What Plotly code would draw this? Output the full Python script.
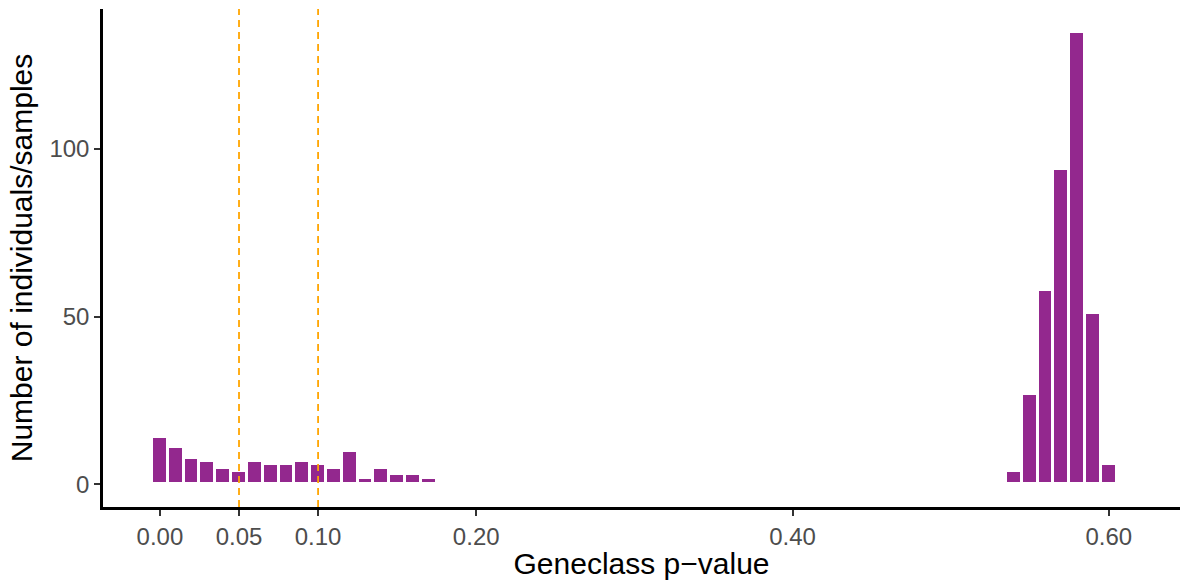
import plotly.graph_objects as go

# Histogram counts per 0.01-wide bin (bin centres listed below)
low_centres = [0.00, 0.01, 0.02, 0.03, 0.04, 0.05, 0.06, 0.07, 0.08,
               0.09, 0.10, 0.11, 0.12, 0.13, 0.14, 0.15, 0.16, 0.17]
low_counts = [14, 11, 8, 7, 5, 4, 7, 6, 6, 7, 6, 5, 10, 2, 5, 3, 3, 2]

high_centres = [0.54, 0.55, 0.56, 0.57, 0.58, 0.59, 0.60]
high_counts = [4, 27, 58, 94, 135, 51, 6]

bin_width = 0.01
thresholds = [0.05, 0.10]

x_ticks = [0.00, 0.05, 0.10, 0.20, 0.40, 0.60]
x_tick_labels = ["0.00", "0.05", "0.10", "0.20", "0.40", "0.60"]
y_ticks = [0, 50, 100]

centres = low_centres + high_centres
counts = low_counts + high_counts

fig = go.Figure()
fig.add_trace(go.Bar(
    x=centres,
    y=counts,
    width=bin_width,
    marker=dict(color="#93288E", line=dict(color="white", width=3)),
    showlegend=False,
))

for t in thresholds:
    fig.add_shape(
        type="line", xref="x", yref="paper",
        x0=t, x1=t, y0=0, y1=1,
        line=dict(color="#FFA500", width=1.8, dash="7px,5px"),
        layer="above",
    )

y_max = max(counts)
pad = 0.05 * y_max

fig.update_layout(
    width=1180, height=580,
    margin=dict(l=103, r=0, t=9, b=73),
    plot_bgcolor="white", paper_bgcolor="white",
    font=dict(family="Liberation Sans, Arial, sans-serif"),
    bargap=0,
    xaxis=dict(
        range=[-0.036, 0.645],
        tickvals=x_ticks, ticktext=x_tick_labels,
        showgrid=False, zeroline=False,
        showline=True, linecolor="black", linewidth=2.5,
        ticks="outside", ticklen=6, tickwidth=2, tickcolor="#333333",
        tickfont=dict(size=24, color="#4D4D4D"),
        title=dict(text="Geneclass p\u2212value", font=dict(size=30, color="black"), standoff=2),
    ),
    yaxis=dict(
        range=[-pad, y_max + pad],
        tickvals=y_ticks,
        showgrid=False, zeroline=False,
        showline=True, linecolor="black", linewidth=2.5,
        ticks="outside", ticklen=6, tickwidth=2, tickcolor="#333333",
        tickfont=dict(size=24, color="#4D4D4D"),
        title=dict(text="Number of individuals/samples", font=dict(size=30, color="black"), standoff=8),
    ),
)

fig.write_html("out.html")
